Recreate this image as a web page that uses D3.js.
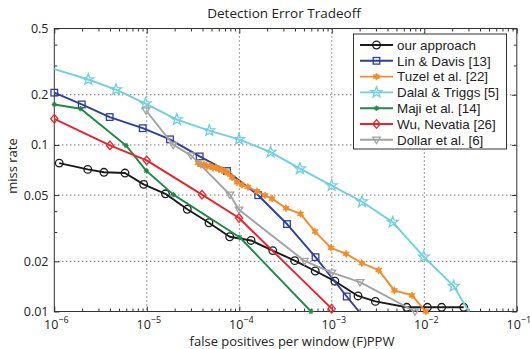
<!DOCTYPE html>
<html>
<head>
<meta charset="utf-8">
<script src="https://cdn.jsdelivr.net/npm/d3@7"></script>
<style>
  html, body { margin: 0; padding: 0; background: #fff; }
  svg { display: block; font-family: "Open Sans", "Noto Sans", sans-serif; }
</style>
</head>
<body>
<svg id="chart" width="530" height="349"></svg>
<script>
// ---- data (fppw, miss rate) ----
const ourApproach = [[1.13e-6,0.0778],[2.30e-6,0.0713],[3.44e-6,0.0685],[5.81e-6,0.0678],[9.25e-6,0.0580],
  [1.59e-5,0.0509],[2.74e-5,0.0411],[4.70e-5,0.0341],[7.87e-5,0.0281],[1.34e-4,0.0267],[2.30e-4,0.0232],
  [3.97e-4,0.0202],[6.62e-4,0.0175],[1.08e-3,0.0152],[1.92e-3,0.0124],[2.96e-3,0.0115],[6.46e-3,0.0106],
  [1.08e-2,0.0106],[1.54e-2,0.0106],[2.67e-2,0.0106]];
const linDavis = [[1.0e-6,0.206],[1.98e-6,0.175],[3.97e-6,0.147],[9.03e-6,0.126],[1.78e-5,0.108],
  [3.73e-5,0.0853],[7.36e-5,0.0697],[1.60e-4,0.0499],[3.28e-4,0.0335],[6.67e-4,0.0212],[1.45e-3,0.0123],
  [2.29e-3,0.00902]];
const tuzel = [[3.58e-5,0.0780],[3.85e-5,0.0759],[4.15e-5,0.0764],[4.47e-5,0.0743],[4.82e-5,0.0748],
  [5.20e-5,0.0728],[5.60e-5,0.0733],[6.03e-5,0.0713],[6.50e-5,0.0708],[7.00e-5,0.0694],[7.55e-5,0.0675],
  [8.34e-5,0.0639],[9.45e-5,0.0597],[1.07e-4,0.0576],[1.24e-4,0.0559],[1.55e-4,0.0527],[1.90e-4,0.0498],
  [2.26e-4,0.0476],[3.20e-4,0.0417],[4.59e-4,0.0386],[6.58e-4,0.0302],[9.80e-4,0.0241],[1.43e-3,0.0222],
  [2.11e-3,0.0195],[3.21e-3,0.0177],[4.74e-3,0.0134],[7.36e-3,0.0125],[1.04e-2,0.0100]];
const dalalTriggs = [[5.02e-7,0.321],[2.33e-6,0.247],[4.65e-6,0.215],[9.68e-6,0.177],[2.11e-5,0.142],
  [4.74e-5,0.122],[9.93e-5,0.108],[2.18e-4,0.0906],[4.53e-4,0.0720],[9.97e-4,0.0570],[2.12e-3,0.0456],
  [4.55e-3,0.0344],[9.88e-3,0.0213],[2.08e-2,0.0142],[3.53e-2,0.00865]];
const maji = [[1.0e-6,0.175],[1.93e-6,0.165],[5.96e-6,0.0993],[9.88e-6,0.0699],[1.94e-5,0.0503],
  [1.01e-4,0.0279],[5.96e-4,0.0100]];
const wuNevatia = [[1.0e-6,0.1436],[4.0e-6,0.0993],[9.97e-6,0.0808],[3.95e-5,0.0503],[9.93e-5,0.0364],
  [9.97e-4,0.0104]];
const dollar = [[9.81e-6,0.161],[1.93e-5,0.100],[3.01e-5,0.0865],[7.93e-5,0.0502],[9.93e-5,0.0408],
  [5.07e-4,0.0201],[1.0e-3,0.0171],[2.02e-3,0.0150],[7.95e-3,0.0100]];

const seriesNames = ["our approach","Lin & Davis [13]","Tuzel et al. [22]","Dalal & Triggs [5]",
  "Maji et al. [14]","Wu, Nevatia [26]","Dollar et al. [6]"];
const seriesData = [ourApproach, linDavis, tuzel, dalalTriggs, maji, wuNevatia, dollar];
const seriesColors = ["#1a1a1a","#2f3f9e","#f28c28","#72cfdd","#1f8a45","#e8232b","#a3a3a3"];
const seriesMarkers = ["circle","square","hexstar","pentagram","asterisk","diamond","triangleDown"];

const xTicks = [1e-6,1e-5,1e-4,1e-3,1e-2,1e-1];
const xTickExp = ["−6","−5","−4","−3","−2","−1"];
const yTicks = [0.01,0.02,0.05,0.1,0.2,0.5];
const yTickLabels = ["0.01","0.02","0.05","0.1","0.2","0.5"];
const yMinorTicks = [0.03,0.04,0.3,0.4];

const titleText = "Detection Error Tradeoff";
const xLabel = "false positives per window (F)PPW";
const yLabel = "miss rate";

// ---- layout ----
const L = 54.3, R = 516.8, T = 28.5, B = 311.5;
const svg = d3.select("#chart");
const x = d3.scaleLog().domain([1e-6, 1e-1]).range([L, R]);
const y = d3.scaleLog().domain([0.01, 0.5]).range([B, T]);
const axisColor = "#333";

svg.append("defs").append("clipPath").attr("id","plotclip")
  .append("rect").attr("x", L).attr("y", T).attr("width", R - L).attr("height", B - T);

// grid
const grid = svg.append("g");
xTicks.slice(1, -1).forEach(v => {
  grid.append("line").attr("x1", x(v)).attr("x2", x(v)).attr("y1", T).attr("y2", B)
    .attr("stroke", "#333").attr("stroke-width", 1).attr("stroke-dasharray", "1,3");
});
yTicks.slice(1, -1).forEach(v => {
  grid.append("line").attr("x1", L).attr("x2", R).attr("y1", y(v)).attr("y2", y(v))
    .attr("stroke", "#333").attr("stroke-width", 1).attr("stroke-dasharray", "1,3");
});

// axes with minor ticks, via d3 axes
const xMinor = [];
for (let e = -6; e < -1; e++) for (let m = 2; m <= 9; m++) xMinor.push(m * Math.pow(10, e));

function styleAxis(g) {
  g.select(".domain").remove();
  g.selectAll("line").attr("stroke", axisColor);
  g.selectAll("text").remove();
}
svg.append("g").attr("transform", `translate(0,${B})`)
  .call(d3.axisBottom(x).tickValues(xTicks).tickSize(-5)).call(styleAxis);
svg.append("g").attr("transform", `translate(0,${B})`)
  .call(d3.axisBottom(x).tickValues(xMinor).tickSize(-3)).call(styleAxis);
svg.append("g").attr("transform", `translate(0,${T})`)
  .call(d3.axisTop(x).tickValues(xTicks).tickSize(-5)).call(styleAxis);
svg.append("g").attr("transform", `translate(0,${T})`)
  .call(d3.axisTop(x).tickValues(xMinor).tickSize(-3)).call(styleAxis);
svg.append("g").attr("transform", `translate(${L},0)`)
  .call(d3.axisLeft(y).tickValues(yTicks).tickSize(-5)).call(styleAxis);
svg.append("g").attr("transform", `translate(${L},0)`)
  .call(d3.axisLeft(y).tickValues(yMinorTicks).tickSize(-3)).call(styleAxis);
svg.append("g").attr("transform", `translate(${R},0)`)
  .call(d3.axisRight(y).tickValues(yTicks).tickSize(-5)).call(styleAxis);
svg.append("g").attr("transform", `translate(${R},0)`)
  .call(d3.axisRight(y).tickValues(yMinorTicks).tickSize(-3)).call(styleAxis);

// box
svg.append("rect").attr("x", L).attr("y", T).attr("width", R - L).attr("height", B - T)
  .attr("fill", "none").attr("stroke", axisColor).attr("stroke-width", 1);

// tick labels
xTicks.forEach((v, i) => {
  const t = svg.append("text").attr("x", x(v) + 2).attr("y", 329)
    .attr("text-anchor", "middle").attr("font-size", 12.5).attr("fill", "#222");
  t.append("tspan").text("10");
  t.append("tspan").attr("dy", -6).attr("font-size", 9).text(xTickExp[i]);
});
yTicks.forEach((v, i) => {
  svg.append("text").attr("x", 48.5).attr("y", y(v) + 4.5).attr("text-anchor", "end")
    .attr("font-size", 12.5).attr("fill", "#222").text(yTickLabels[i]);
});

// labels
svg.append("text").attr("x", 284).attr("y", 18).attr("text-anchor", "middle")
  .attr("font-size", 13.5).attr("fill", "#222").text(titleText);
svg.append("text").attr("x", 292).attr("y", 345.5).attr("text-anchor", "middle")
  .attr("font-size", 13).attr("fill", "#222").text(xLabel);
svg.append("text").attr("transform", "translate(17,166) rotate(-90)").attr("text-anchor", "middle")
  .attr("font-size", 13).attr("fill", "#222").text(yLabel);

// markers
function starPath(n, rOut, rIn) {
  const pts = [];
  for (let k = 0; k < 2 * n; k++) {
    const r = k % 2 === 0 ? rOut : rIn;
    const a = -Math.PI / 2 + k * Math.PI / n;
    pts.push([r * Math.cos(a), r * Math.sin(a)]);
  }
  return "M" + pts.map(p => p[0].toFixed(2) + "," + p[1].toFixed(2)).join("L") + "Z";
}
function drawMarker(g, type, cx, cy, color) {
  const m = g.append("g").attr("transform", `translate(${cx},${cy})`);
  const sw = 1.3;
  switch (type) {
    case "circle":
      m.append("circle").attr("r", 3.8).attr("fill", "none").attr("stroke", color).attr("stroke-width", sw); break;
    case "square":
      m.append("rect").attr("x", -3.3).attr("y", -3.3).attr("width", 6.6).attr("height", 6.6)
        .attr("fill", "none").attr("stroke", color).attr("stroke-width", sw); break;
    case "diamond":
      m.append("path").attr("d", "M0,-4.3L3.6,0L0,4.3L-3.6,0Z")
        .attr("fill", "none").attr("stroke", color).attr("stroke-width", sw); break;
    case "triangleDown":
      m.append("path").attr("d", "M-3.8,-2.6L3.8,-2.6L0,3.8Z")
        .attr("fill", "none").attr("stroke", color).attr("stroke-width", sw); break;
    case "pentagram":
      m.append("path").attr("d", starPath(5, 5.8, 2.4))
        .attr("fill", "none").attr("stroke", color).attr("stroke-width", sw); break;
    case "hexstar":
      m.append("path").attr("d", starPath(6, 3.6, 1.9))
        .attr("fill", color).attr("stroke", color).attr("stroke-width", 0.8); break;
    case "asterisk":
      [0, 45, 90, 135].forEach(a => {
        const r = 2.6, rad = a * Math.PI / 180;
        m.append("line").attr("x1", -r * Math.cos(rad)).attr("y1", -r * Math.sin(rad))
          .attr("x2", r * Math.cos(rad)).attr("y2", r * Math.sin(rad))
          .attr("stroke", color).attr("stroke-width", 1.2);
      });
      break;
  }
}

const line = d3.line().x(d => x(d[0])).y(d => y(d[1]));
const plot = svg.append("g");
seriesData.forEach((data, i) => {
  plot.append("path").datum(data).attr("d", line).attr("fill", "none")
    .attr("stroke", seriesColors[i]).attr("stroke-width", 1.9)
    .attr("stroke-linejoin", "round").attr("clip-path", "url(#plotclip)");
  data.filter(d => d[0] >= 1e-6 * 0.999 && d[0] <= 1e-1 && d[1] >= 0.0099 && d[1] <= 0.5)
    .forEach(d => drawMarker(plot, seriesMarkers[i], x(d[0]), y(d[1]), seriesColors[i]));
});

// legend
const lg = svg.append("g");
const lgX = 353.5, lgY = 34, lgW = 153, lgH = 115;
lg.append("rect").attr("x", lgX).attr("y", lgY).attr("width", lgW).attr("height", lgH)
  .attr("fill", "#fff").attr("stroke", axisColor).attr("stroke-width", 1);
seriesNames.forEach((name, i) => {
  const yy = 45 + i * 15.8;
  lg.append("line").attr("x1", 360).attr("x2", 393).attr("y1", yy).attr("y2", yy)
    .attr("stroke", seriesColors[i]).attr("stroke-width", 1.9);
  drawMarker(lg, seriesMarkers[i], 376.5, yy, seriesColors[i]);
  lg.append("text").attr("x", 397).attr("y", yy + 4.8).attr("font-size", 13.4)
    .attr("font-family", "'Liberation Sans', Arial, sans-serif")
    .attr("fill", "#222").text(name);
});
</script>
</body>
</html>
